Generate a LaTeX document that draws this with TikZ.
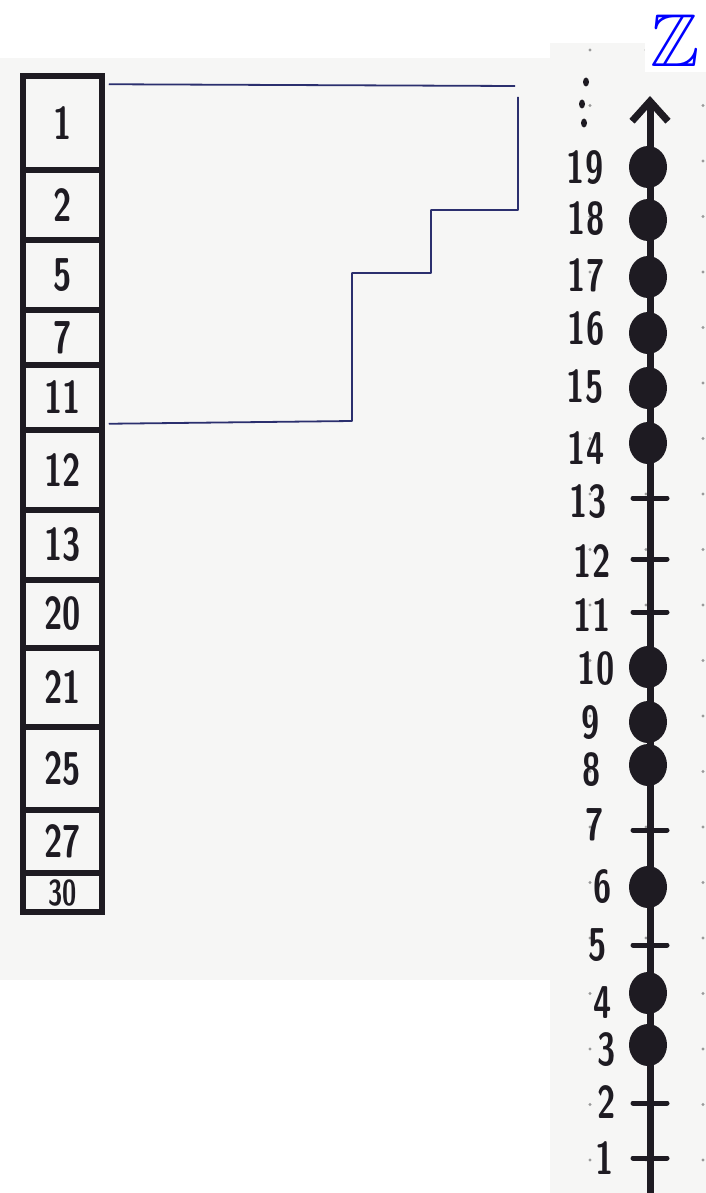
\documentclass[tikz,border=0pt]{standalone}
\usepackage{amssymb}
\usetikzlibrary{arrows.meta,shapes.geometric}
\definecolor{ink}{HTML}{1E1B22}
\definecolor{pen}{HTML}{2B2F6E}
\definecolor{paper}{HTML}{F6F6F5}
\definecolor{griddot}{HTML}{9A9A9A}
\newcommand{\hw}[1]{\scalebox{0.72}[1]{#1}}
\newcommand{\hwfont}{\fontsize{46}{46}\selectfont\sffamily\bfseries}
\newcommand{\hwsmallfont}{\fontsize{36}{36}\selectfont\sffamily\bfseries}
\begin{document}
\begin{tikzpicture}[x=1pt,y=-1pt,
  cell/.style={draw=ink, line width=5.5pt, minimum width=79pt, inner sep=0pt, font=\hwfont, text=ink},
  lab/.style={font=\hwfont, text=ink, inner sep=0pt},
  penline/.style={draw=pen, line width=1.8pt, line join=round},
  axisline/.style={draw=ink, line width=7pt, -{Straight Barb[length=20pt,width=36pt]}},
  tickline/.style={draw=ink, line width=5pt, line cap=round},
  bigdot/.style={ellipse, fill=ink, minimum width=38pt, minimum height=42pt, inner sep=0pt},
  smalldot/.style={ellipse, fill=ink, minimum width=6pt, minimum height=9pt, inner sep=0pt}]
\useasboundingbox (0,0) rectangle (706,1193);
\fill[white] (0,0) rectangle (706,1193);
\fill[paper] (0,58) rectangle (550,980);
\fill[paper] (550,43) rectangle (706,1193);
\foreach \gx in {590,646,703}
  \foreach \k in {0,...,20}
    \fill[griddot] (\gx,{50+55.5*\k}) circle (1.6);
\fill[white] (645,0) rectangle (706,72);
\node[text=blue, inner sep=0pt] (Z) at (675,41) {\scalebox{7.4}[7.5]{$\mathbb{Z}$}};

% column of boxes
\foreach \t/\b/\l [count=\i] in {76/170/1,170/240/2,240/310/5,310/365/7,365/430/11,430/510/12,510/580/13,580/648/20,648/727/21,727/810/25,810/873/27}
  \node[cell, minimum height={\b-\t}] (c\i) at (62.5,{(\t+\b)/2}) {\hw{\l}};
\node[cell, font=\hwsmallfont, minimum height=39pt] (c12) at (62.5,892.5) {\hw{30}};

% staircase
\coordinate (s0) at (515,86);
\coordinate (s1) at (352,421);
\coordinate (s2) at (352,273);
\coordinate (s3) at (431,273);
\coordinate (s4) at (431,210);
\coordinate (s5) at (518,210);
\coordinate (s6) at (518,97);
\draw[penline] ([yshift=-11pt,xshift=4pt]c1.north east) -- (s0);
\draw[penline] ([yshift=9pt,xshift=4pt]c5.south east) -- (s1) -- (s2) -- (s3) -- (s4) -- (s5) -- (s6);

% number line
\coordinate (abot) at (650,1193);
\coordinate (atop) at (650,96);
\draw[axisline] (abot) -- (atop);
\foreach \n/\ty in {1/1158,2/1103,3/1045,4/993,5/945,6/887,7/830,8/765,9/722,10/667,11/612,12/559,13/498,14/443,15/388,16/333,17/277,18/220,19/167}
  \coordinate (t\n) at (650,\ty);
\foreach \n in {1,2,5,7,11,12,13}
  \draw[tickline] ([xshift=-17pt]t\n) -- ([xshift=17pt]t\n);
\foreach \n in {3,4,6,8,9,10,14,15,16,17,18,19}
  \node[bigdot] (d\n) at ([xshift=-2pt]t\n) {};
\foreach \n/\lx/\ly in {1/605/1158,2/607/1102,3/607/1050,4/603/1003,5/598/945,6/603/887,7/595/825,8/592/770,9/591/723,10/596/669,11/592/615,12/592/561,13/588/502,14/586/448,15/585/387,16/586/329,17/586/275,18/586/219,19/585/168}
  \node[lab] (l\n) at (\lx,\ly) {\hw{\n}};
\node[smalldot] (v1) at (586,82) {};
\node[smalldot] (v2) at (582,104) {};
\node[smalldot] (v3) at (584,123) {};
\end{tikzpicture}
\end{document}
